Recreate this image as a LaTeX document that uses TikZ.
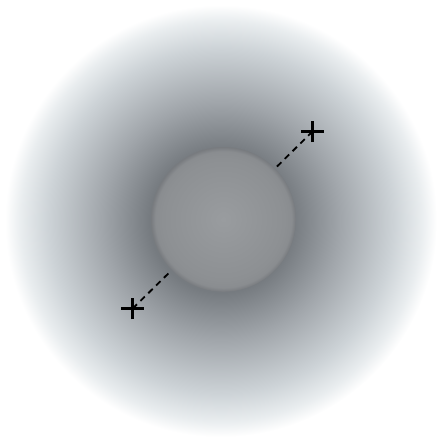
\documentclass[tikz,border=0pt]{standalone}
\usepackage{xcolor}
\definecolor{haloA}{RGB}{108,112,117}
\definecolor{haloB}{RGB}{118,123,128}
\definecolor{haloC}{RGB}{160,165,170}
\definecolor{haloD}{RGB}{205,211,215}
\definecolor{haloE}{RGB}{233,237,239}
\definecolor{coreA}{RGB}{153,156,159}
\definecolor{coreB}{RGB}{141,144,147}
\definecolor{coreC}{RGB}{120,123,127}
\pgfdeclareradialshading{halo}{\pgfpointorigin}{color(0bp)=(haloA); color(8.3bp)=(haloB); color(13.7bp)=(haloC); color(20bp)=(haloD); color(23.2bp)=(haloE); color(25bp)=(white); color(50bp)=(white)}
\pgfdeclareradialshading{core}{\pgfpointorigin}{color(0bp)=(coreA); color(21bp)=(coreB); color(23.5bp)=(coreB!85!coreC); color(25bp)=(coreC); color(50bp)=(coreC)}

\begin{document}
\begin{tikzpicture}
    [crossmark/.style={line width=1.6pt},
     link/.style={line width=1.3pt, dash pattern=on 4.4pt off 3.4pt}]
    \useasboundingbox (-5.525,-5.55) rectangle (5.55,5.525);
    %outer cloud
    \node[circle, inner sep=0pt, minimum size=10.8cm, shading=halo] (cloud) at (0,0) {};
    %inner sphere
    \node[circle, inner sep=0pt, minimum size=3.62cm, shading=core] (core) at (0.06,0.04) {};
    %end points
    \coordinate (p1) at (-2.21,-2.19);
    \coordinate (p2) at (2.29,2.24);
    \draw[crossmark] (p1) ++(-0.28,0) -- ++(0.56,0) (p1) ++(0,-0.27) -- ++(0,0.54);
    \draw[crossmark] (p2) ++(-0.28,0) -- ++(0.56,0) (p2) ++(0,-0.27) -- ++(0,0.54);
    %dashed lines
    \draw[link] (p1) -- (core);
    \draw[link] (p2) -- (core);
\end{tikzpicture}
\end{document}
